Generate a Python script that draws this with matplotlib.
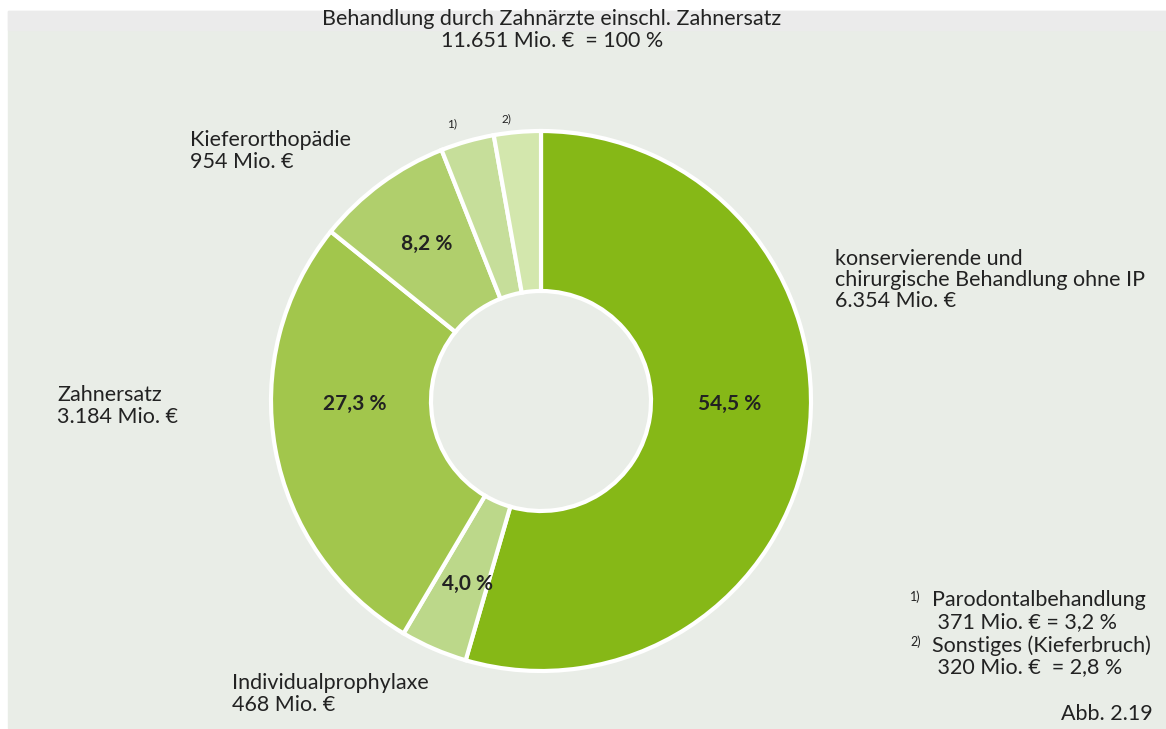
import numpy as np
import matplotlib.pyplot as plt
from matplotlib.patches import Rectangle

# data (clockwise from top)
shares = [54.5, 4.0, 27.3, 8.2, 3.2, 2.8]
pct_labels = ['54,5 %', '4,0 %', '27,3 %', '8,2 %', '', '']
colors = ['#86b817', '#bcd88a', '#a2c64c', '#b0cf6c', '#c6de9a', '#d3e7ad']
names = ['konservierende und\nchirurgische Behandlung ohne IP\n6.354 Mio. €',
         'Individualprophylaxe\n468 Mio. €',
         'Zahnersatz\n3.184 Mio. €',
         'Kieferorthopädie\n954 Mio. €']
title = 'Behandlung durch Zahnärzte einschl. Zahnersatz\n11.651 Mio. €  = 100 %'

plt.rcParams['font.family'] = ['Lato', 'DejaVu Sans']
txt = '#222222'

W, H = 1166, 729
fig = plt.figure(figsize=(W / 100, H / 100), dpi=100)
ax = fig.add_axes([0, 0, 1, 1])

# background panel
ax.add_patch(Rectangle((8, 11), W - 8, H - 12, color='#e9ede7', zorder=0))
ax.add_patch(Rectangle((8, 11), W - 8, 19, color='#ebebeb', zorder=0))

cx, cy, R = 541, 401, 270
# y axis inverted -> counterclock in data is clockwise on screen
wedges, _ = ax.pie(shares, colors=colors, startangle=-90, counterclock=True,
                   center=(cx, cy), radius=R,
                   wedgeprops=dict(width=160, edgecolor='white', linewidth=3))

# percent labels, placed by hand like in the print version (angle on screen, radius fraction)
lab_pos = [(-1, 0.70), (248, 0.73), (181, 0.69), (126, 0.72)]
for lab, (ang, rf) in zip(pct_labels, lab_pos):
    a = np.deg2rad(ang)
    ax.text(cx + rf * R * np.cos(a), cy - rf * R * np.sin(a), lab, ha='center', va='center',
            fontsize=15, fontweight='bold', color=txt)

ax.set_xlim(0, W)
ax.set_ylim(H, 0)
ax.set_aspect('equal')
ax.axis('off')

fs = 15.5
ls = 1.08
ax.text(552, 30, title, ha='center', va='center', fontsize=fs, color=txt, linespacing=ls)
ax.text(835, 280, names[0], ha='left', va='center', fontsize=fs, color=txt, linespacing=ls)
ax.text(232, 694, names[1], ha='left', va='center', fontsize=fs, color=txt, linespacing=ls)
ax.text(57, 406, names[2], ha='left', va='center', fontsize=fs, color=txt, linespacing=ls)
ax.text(190, 151, names[3], ha='left', va='center', fontsize=fs, color=txt, linespacing=ls)
ax.text(452, 124, '1)', ha='center', va='center', fontsize=8.5, color=txt)
ax.text(506, 119, '2)', ha='center', va='center', fontsize=8.5, color=txt)

ax.text(910, 597, '1)', ha='left', va='center', fontsize=9, color=txt)
ax.text(932, 611, 'Parodontalbehandlung\n 371 Mio. € = 3,2 %', ha='left', va='center',
        fontsize=fs, color=txt, linespacing=ls)
ax.text(910, 642, '2)', ha='left', va='center', fontsize=9, color=txt)
ax.text(932, 656, 'Sonstiges (Kieferbruch)\n 320 Mio. €  = 2,8 %', ha='left', va='center',
        fontsize=fs, color=txt, linespacing=ls)
ax.text(1153, 714, 'Abb. 2.19', ha='right', va='center', fontsize=fs, color=txt)

fig.savefig('out.png', dpi=100, facecolor='white')
